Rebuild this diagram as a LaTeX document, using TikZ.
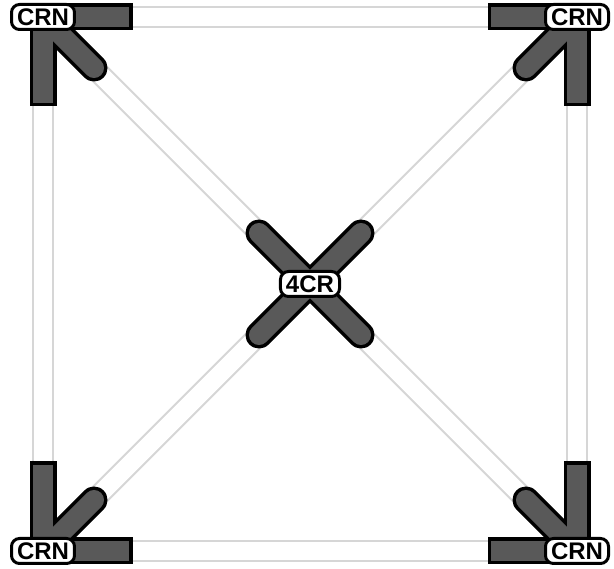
\documentclass[tikz,border=0pt]{standalone}
\usepackage{fontspec}
\setmainfont{Liberation Sans}
\usetikzlibrary{calc}
\definecolor{roadgray}{HTML}{D6D6D6}
\definecolor{barfill}{HTML}{595959}
\tikzset{
  road/.style={draw=roadgray, line width=2, double=white, double distance=18},
  barout/.style={draw=black, line width=27},
  barin/.style={draw=barfill, line width=20},
  lpiece/.style={line cap=rect, line join=miter},
  arm/.style={line cap=round},
  tag/.style={draw=black, line width=3, fill=white, rounded corners=8,
    font=\fontsize{24}{24}\selectfont\bfseries, inner xsep=5.5, inner ysep=4,
    text height=17, text depth=0}
}
\begin{document}
\begin{tikzpicture}[x=1pt,y=-1pt]
\useasboundingbox[fill=white] (0,0) rectangle (614,569);
\coordinate (tl) at (43,17);
\coordinate (tr) at (577,17);
\coordinate (bl) at (43,551);
\coordinate (br) at (577,551);
\coordinate (c) at (310,284);
% roads
\draw[road] (tl) -- (tr);
\draw[road] (bl) -- (br);
\draw[road] (tl) -- (bl);
\draw[road] (tr) -- (br);
\draw[road] (tl) -- (c);
\draw[road] (tr) -- (c);
\draw[road] (bl) -- (c);
\draw[road] (br) -- (c);
% corner pieces
\foreach \p/\sx/\sy in {tl/1/1, tr/-1/1, bl/1/-1, br/-1/-1}{
  \draw[barout,lpiece] ($(\p)+(\sx*76,0)$) -- (\p) -- ($(\p)+(0,\sy*76)$);
  \draw[barout,arm] (\p) -- ($(\p)+(\sx*51,\sy*51)$);
  \draw[barin,lpiece] ($(\p)+(\sx*76,0)$) -- (\p) -- ($(\p)+(0,\sy*76)$);
  \draw[barin,arm] (\p) -- ($(\p)+(\sx*51,\sy*51)$);
}
% center X
\draw[barout,arm] ($(c)+(-51,-51)$) -- ($(c)+(51,51)$);
\draw[barout,arm] ($(c)+(51,-51)$) -- ($(c)+(-51,51)$);
\draw[barin,arm] ($(c)+(-51,-51)$) -- ($(c)+(51,51)$);
\draw[barin,arm] ($(c)+(51,-51)$) -- ($(c)+(-51,51)$);
% labels
\node[tag] (ltl) at (tl) {CRN};
\node[tag] (ltr) at (tr) {CRN};
\node[tag] (lbl) at (bl) {CRN};
\node[tag] (lbr) at (br) {CRN};
\node[tag] (lc) at (c) {4CR};
\end{tikzpicture}
\end{document}
